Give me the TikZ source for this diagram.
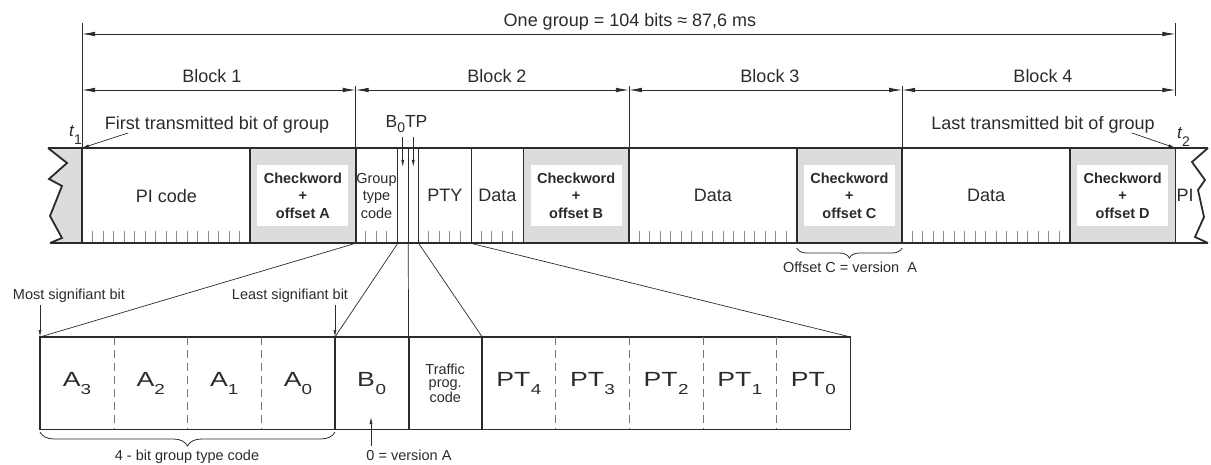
\documentclass[tikz,border=0pt]{standalone}
\usepackage{fontspec}
\usepackage{graphicx}
\setmainfont{Liberation Sans}
\usetikzlibrary{arrows.meta,decorations.pathreplacing}
\definecolor{ink}{HTML}{2B2B2B}
\definecolor{cwgray}{HTML}{DCDCDC}
\definecolor{tickgray}{HTML}{8C8C8C}
\newcommand\fs[1]{\fontsize{#1}{#1}\selectfont}
% wide label with lowered index, used in the expanded bit row
\newcommand\cellsub[3]{\scalebox{1.3}[1]{\fs{20.5}#1\kern#3\raisebox{-8.3pt}{\fs{14.5}#2}}}
% time marks t1 / t2
\newcommand\tmark[1]{{\fs{17}\itshape t}\kern0.3pt\raisebox{-8pt}{\fs{14}#1}}

\begin{document}
\begin{tikzpicture}[x=1pt, y=-1pt, line join=miter,
  frame/.style={line width=1.8pt, draw=ink},
  sep/.style={line width=0.9pt, draw=ink},
  dim/.style={line width=0.8pt, draw=ink},
  dimarrow/.style={dim, {Latex[length=13pt,width=4.6pt]}-{Latex[length=13pt,width=4.6pt]}},
  ptr/.style={line width=0.7pt, draw=ink, -{Latex[length=7pt,width=3pt]}},
  tick/.style={line width=0.9pt, draw=tickgray},
  fld/.style={rectangle, inner sep=0pt, minimum height=95pt, anchor=north west, text=ink, font=\fs{18}},
  cwbox/.style={fld, fill=cwgray, minimum width=105.1pt},
  cwtext/.style={rectangle, fill=white, inner sep=0pt, minimum width=91pt, minimum height=61pt,
    align=center, text=ink, font=\fontsize{14.5}{17.5}\selectfont\bfseries},
  cell/.style={rectangle, inner sep=0pt, minimum width=73.64pt, minimum height=92pt,
    anchor=north west, text=ink},
  lab/.style={inner sep=0pt, text=ink, font=\fs{18}},
  small/.style={inner sep=0pt, text=ink, font=\fs{14.5}},
  proj/.style={line width=0.7pt, draw=ink},
  dashsep/.style={line width=1pt, draw=ink!65, dash pattern=on 8pt off 5pt},
]
\useasboundingbox (0,0) rectangle (1211,465);

% ---- fields of one group (26 bits per block) ----
\node[fld, minimum width=168.15pt] (pi)    at (82,148)      {PI code};
\node[cwbox]                        (cw1)   at (250.15,148)  {};
\node[fld, minimum width=42.04pt, align=center, font=\fontsize{14.5}{17.5}\selectfont]
                                    (gtc)   at (355.25,148)  {Group\\type\\code};
\node[fld, minimum width=10.51pt]   (bz)    at (397.29,148)  {};
\node[fld, minimum width=10.51pt]   (tp)    at (407.8,148)   {};
\node[fld, minimum width=52.55pt]   (pty)   at (418.31,148)  {PTY};
\node[fld, minimum width=52.54pt]   (data2) at (470.86,148)  {Data};
\node[cwbox]                        (cw2)   at (523.4,148)   {};
\node[fld, minimum width=168.15pt]  (data3) at (628.5,148)   {Data};
\node[cwbox]                        (cw3)   at (796.65,148)  {};
\node[fld, minimum width=168.15pt]  (data4) at (901.75,148)  {Data};
\node[cwbox]                        (cw4)   at (1069.9,148)  {};
\node[lab] (pinext) at (1185,195.5) {PI};

% broken-off edges of the neighbouring groups
\coordinate (jl1) at (48,148);  \coordinate (jl7) at (50,243);
\coordinate (jr1) at (1208,148); \coordinate (jr7) at (1208,243);
\fill[cwgray] (jl1) -- (67,163) -- (49,179) -- (62,186) -- (50,216) -- (62,238) -- (jl7)
  -- (pi.south west) -- (pi.north west) -- cycle;

% bit ticks
\foreach \s in {82,628.5,901.75}{
  \foreach \k in {1,...,15}{\draw[tick] ({\s+\k*10.5096},231) -- ({\s+\k*10.5096},242);}}
\foreach \k in {1,2,3,7,8,9,10,12,13,14,15}{
  \draw[tick] ({355.25+\k*10.5096},231) -- ({355.25+\k*10.5096},242);}

% outline of the group
\draw[frame] (jl1) -- (jr1);
\draw[frame] (jl7) -- (jr7);
\draw[frame] (jl1) -- (67,163) -- (49,179) -- (62,186) -- (50,216) -- (62,238) -- (jl7);
\draw[frame] (jr1) -- (1192,162) -- (1205,180) -- (1198,190) -- (1204,217) -- (1195,237) -- (jr7);
\foreach \n in {pi,cw1,cw2,cw3,cw4}{\draw[frame] (\n.north west) -- (\n.south west);}
\foreach \n in {cw1,cw2,cw3,cw4}{\draw[frame] (\n.north east) -- (\n.south east);}
\foreach \n in {gtc,bz,tp,pty}{\draw[sep] (\n.north east) -- (\n.south east);}

% checkword labels
\node[cwtext] at (cw1) {Checkword\\+\\offset A};
\node[cwtext] at (cw2) {Checkword\\+\\offset B};
\node[cwtext] at (cw3) {Checkword\\+\\offset C};
\node[cwtext] at (cw4) {Checkword\\+\\offset D};

% ---- dimension lines ----
\draw[dim] (pi.north west) -- (pi.north west |- 0,23);
\draw[dim] (cw4.north east |- 0,23) -- (cw4.north east |- 0,96);
\foreach \n in {cw1,cw2,cw3}{\draw[dim] (\n.north east) -- (\n.north east |- 0,86);}
\draw[dimarrow] (pi.north west |- 0,34) -- (cw4.north east |- 0,34);
\draw[dimarrow] (pi.north west |- 0,90) -- (cw1.north east |- 0,90);
\draw[dimarrow] (cw1.north east |- 0,90) -- (cw2.north east |- 0,90);
\draw[dimarrow] (cw2.north east |- 0,90) -- (cw3.north east |- 0,90);
\draw[dimarrow] (cw3.north east |- 0,90) -- (cw4.north east |- 0,90);

\node[lab, anchor=base] (title) at (630,27) {One group = 104 bits ≈ 87,6 ms};
\node[lab, anchor=base] (blk1) at (212,83)  {Block 1};
\node[lab, anchor=base] (blk2) at (497,83)  {Block 2};
\node[lab, anchor=base] (blk3) at (770,83)  {Block 3};
\node[lab, anchor=base] (blk4) at (1043,83) {Block 4};

\node[lab, anchor=base] (first) at (217,130)  {First transmitted bit of group};
\node[lab, anchor=base] (last)  at (1043,130) {Last transmitted bit of group};
\node[inner sep=0pt, text=ink, anchor=base west] (t1) at (69,137)   {\tmark{1}};
\node[inner sep=0pt, text=ink, anchor=base west] (t2) at (1177,139) {\tmark{2}};
\coordinate (ftail) at (128,133);
\coordinate (ltail) at (1132,133);
\draw[ptr] (ftail) -- (pi.north west);
\draw[ptr] (ltail) -- (cw4.north east);

\node[inner sep=0pt, text=ink, anchor=base] (b0tp) at (406.5,128)
  {\fs{17.5}B\raisebox{-5pt}{\fs{14}0}TP};
\draw[ptr] (bz.north |- 0,137) -- (bz.north |- 0,167);
\draw[ptr] (tp.north |- 0,137) -- (tp.north |- 0,167);

% offset C note
\draw[dim, decorate, decoration={brace, mirror, amplitude=10pt}]
  (cw3.south west |- 0,248) -- (cw3.south east |- 0,248);
\node[small, anchor=base] (offc) at (850,273) {Offset C = version\ \ A};

% ---- expanded bits of group type code, B0, TP and PTY ----
\node[cell] (a3)  at (40,337)     {\cellsub{A}{3}{0pt}};
\node[cell] (a2)  at (113.64,337) {\cellsub{A}{2}{0pt}};
\node[cell] (a1)  at (187.28,337) {\cellsub{A}{1}{0pt}};
\node[cell] (a0)  at (260.92,337) {\cellsub{A}{0}{0pt}};
\node[cell] (b0)  at (334.56,337) {\cellsub{B}{0}{0.5pt}};
\node[cell, align=center, font=\fontsize{14.5}{13.5}\selectfont]
            (tpc) at (408.2,337)  {Traffic\\prog.\\code};
\node[cell] (p4)  at (481.84,337) {\cellsub{PT}{4}{0.3pt}};
\node[cell] (p3)  at (555.48,337) {\cellsub{PT}{3}{0.3pt}};
\node[cell] (p2)  at (629.12,337) {\cellsub{PT}{2}{0.3pt}};
\node[cell] (p1)  at (702.76,337) {\cellsub{PT}{1}{0.3pt}};
\node[cell] (p0)  at (776.4,337)  {\cellsub{PT}{0}{0.3pt}};

\draw[frame] (a3.north west) rectangle (p0.south east);
\foreach \n in {a3,a2,a1,p4,p3,p2,p1}{\draw[dashsep] (\n.north east) -- (\n.south east);}
\foreach \n in {a0,b0,tpc}{\draw[frame] (\n.north east) -- (\n.south east);}

% projection lines
\draw[proj] (gtc.south west) -- (a3.north west);
\draw[proj] (gtc.south east) -- (a0.north east);
\draw[proj] (bz.south east)  -- (b0.north east);
\draw[proj] (tp.south east)  -- (tpc.north east);
\draw[proj] (pty.south east) -- (p0.north east);

\node[small, anchor=base] (msb) at (69,299)  {Most signifiant bit};
\node[small, anchor=base] (lsb) at (290,299) {Least signifiant bit};
\draw[ptr] (a3.north west |- 0,305) -- (a3.north west);
\draw[ptr] (a0.north east |- 0,305) -- (a0.north east);

\draw[dim, decorate, decoration={brace, mirror, amplitude=14pt}]
  (a3.south west |- 0,432) -- (a0.south east |- 0,432);
\node[small, anchor=base] (gtcnote) at (187,460) {4 - bit group type code};

\coordinate (vtail) at (371,446);
\draw[ptr] (vtail) -- (vtail |- 0,417);
\node[small, anchor=base] (vnote) at (409,460) {0 = version A};
\end{tikzpicture}
\end{document}
